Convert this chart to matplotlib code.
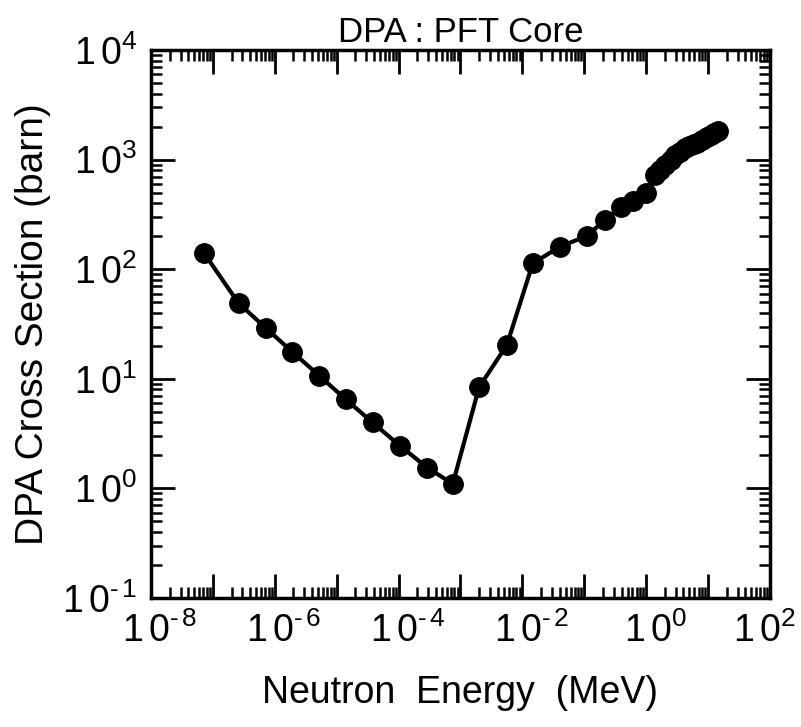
import matplotlib
matplotlib.use("Agg")
import matplotlib.pyplot as plt
import matplotlib.transforms as mtransforms
from matplotlib.ticker import LogLocator, NullFormatter

plt.rcParams['font.family'] = ['Liberation Sans', 'DejaVu Sans']
plt.rcParams['mathtext.fontset'] = 'custom'
plt.rcParams['mathtext.rm'] = 'Liberation Sans'
plt.rcParams['mathtext.it'] = 'Liberation Sans'

# neutron energy (MeV) and DPA cross section (barn)
energy = [7.2e-8, 2.6e-7, 7.2e-7, 1.9e-6, 5.2e-6, 1.4e-5, 3.8e-5, 1.05e-4,
          2.9e-4, 7.5e-4, 2.0e-3, 5.6e-3, 1.47e-2, 4.0e-2, 0.109, 0.216,
          0.387, 0.605, 1.0, 1.4, 1.7, 2.0, 2.5, 2.9, 3.5, 4.2, 5.0, 6.0,
          6.6, 8.0, 9.6, 11.0, 12.5, 14.5]
dpa = [140, 49, 29, 17.7, 10.7, 6.5, 4.0, 2.45,
       1.55, 1.1, 8.4, 20.3, 113, 160, 201, 281,
       372, 422, 493, 724, 800, 893, 1000, 1100, 1180, 1276, 1340, 1400,
       1417, 1520, 1607, 1680, 1740, 1830]

x_exp = list(range(-8, 3))
y_exp = list(range(-1, 5))


def pow_label(e):
    s = str(e).replace('-', r'\text{-}\,')
    return r'$\mathdefault{1\,0^{%s}}$' % s


fig = plt.figure(figsize=(8.01, 7.27), dpi=100)
ax = fig.add_axes([0.1885, 0.1774, 0.7728, 0.7538])

ax.plot(energy, dpa, color='black', lw=3, marker='o', ms=14,
        markerfacecolor='black', markeredgecolor='black')

ax.set_xscale('log')
ax.set_yscale('log')
ax.set_xlim(1e-8, 1e2)
ax.set_ylim(1e-1, 1e4)

ax.xaxis.set_minor_locator(LogLocator(base=10, subs=range(2, 10), numticks=100))
ax.yaxis.set_minor_locator(LogLocator(base=10, subs=range(2, 10), numticks=100))
ax.xaxis.set_minor_formatter(NullFormatter())
ax.yaxis.set_minor_formatter(NullFormatter())

ax.set_xticks([10.0 ** e for e in x_exp])
ax.set_xticklabels([pow_label(e) if e % 2 == 0 else '' for e in x_exp])
ax.set_yticks([10.0 ** e for e in y_exp])
ax.set_yticklabels([pow_label(e) for e in y_exp])

ax.tick_params(which='major', direction='in', length=17, width=2,
               top=True, right=True, labelsize=27, pad=10)
ax.tick_params(which='minor', direction='in', length=8, width=1.8,
               top=True, right=True)
for s in ax.spines.values():
    s.set_linewidth(2.5)

# the "10" sits roughly centred on the tick, exponent hangs to the right
xlabs = ax.get_xticklabels()
for i, lab in enumerate(xlabs):
    dx = 9 if i < len(xlabs) - 1 else -6
    lab.set_transform(lab.get_transform()
                      + mtransforms.ScaledTranslation(dx / 100, 0, fig.dpi_scale_trans))

ax.set_xlabel('Neutron  Energy  (MeV)', fontsize=27, labelpad=18)
ax.set_ylabel('DPA Cross Section (barn)', fontsize=28, labelpad=8)
ax.set_title('DPA : PFT Core', fontsize=25, pad=6)

fig.savefig('out.png', dpi=100)
